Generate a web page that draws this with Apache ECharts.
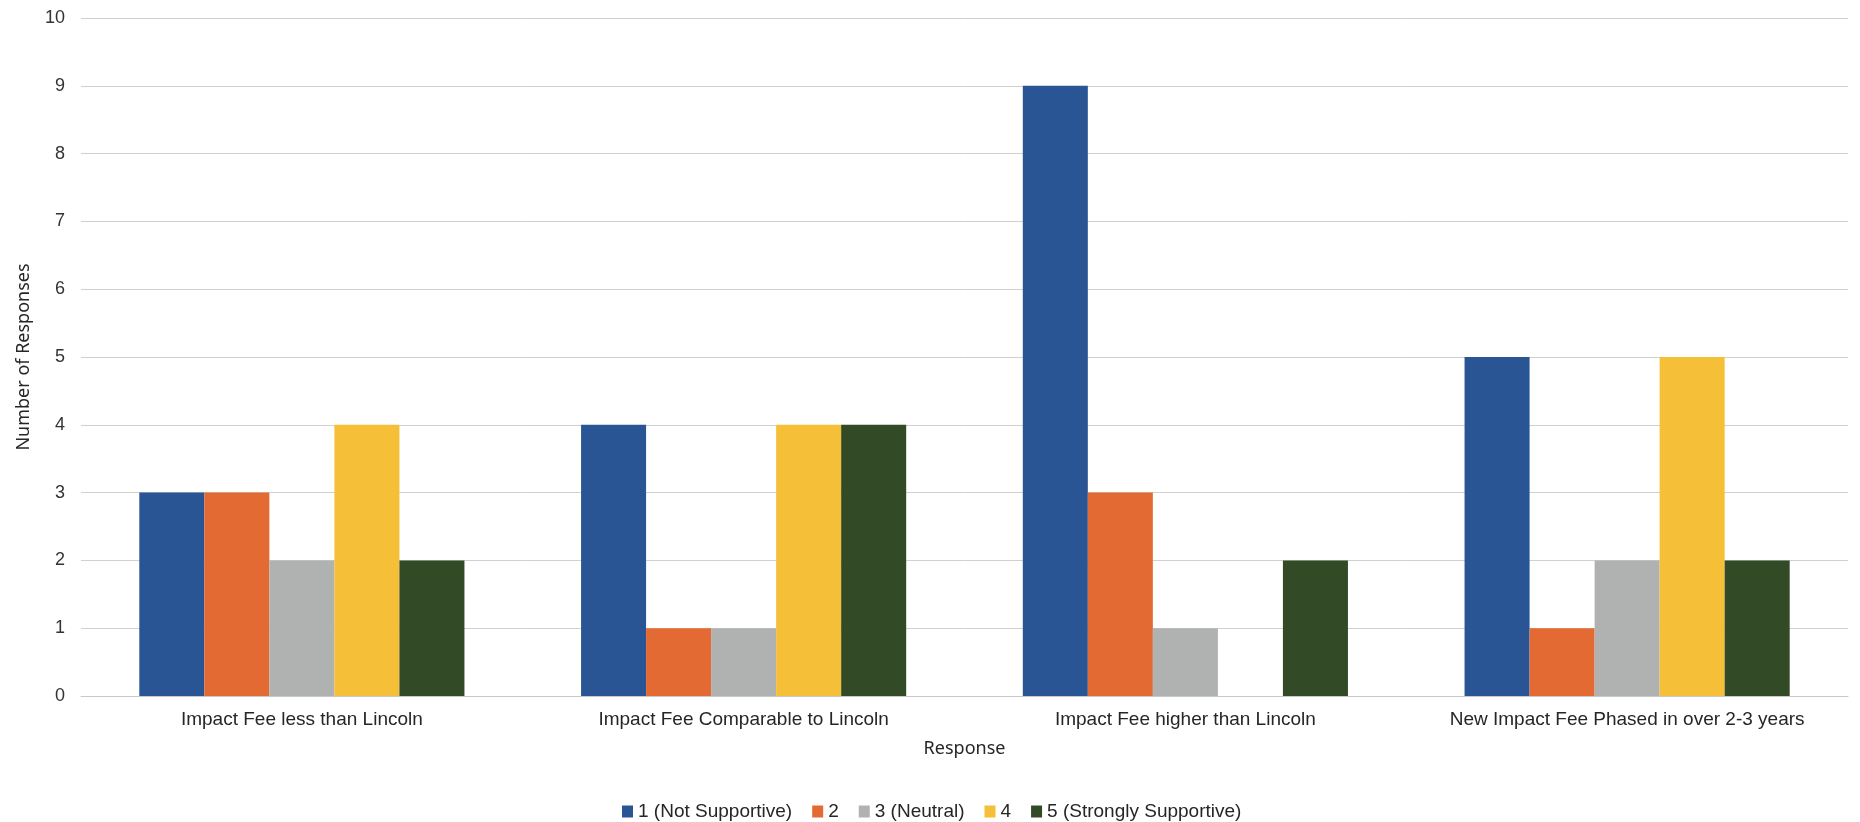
<!DOCTYPE html>
<html>
<head>
<meta charset="utf-8">
<script src="https://cdn.jsdelivr.net/npm/echarts@6/dist/echarts.min.js"></script>
<style>
html,body{margin:0;padding:0;background:#fff;}
#chart{width:1860px;height:822px;}
</style>
</head>
<body>
<div id="chart"></div>
<script>
const categories = ["Impact Fee less than Lincoln", "Impact Fee Comparable to Lincoln", "Impact Fee higher than Lincoln", "New Impact Fee Phased in over 2-3 years"];
const seriesNames = ["1 (Not Supportive)", "2", "3 (Neutral)", "4", "5 (Strongly Supportive)"];
const s1 = [3, 4, 9, 5];
const s2 = [3, 1, 3, 1];
const s3 = [2, 1, 1, 2];
const s4 = [4, 4, 0, 5];
const s5 = [2, 4, 2, 2];
const yTicks = [0, 1, 2, 3, 4, 5, 6, 7, 8, 9, 10];
const colors = ["#2a5595", "#e36a32", "#b0b2b1", "#f6bf38", "#324a26"];

const allData = [s1, s2, s3, s4, s5];
const chart = echarts.init(document.getElementById('chart'), null, {renderer: 'canvas'});
chart.setOption({
  animation: false,
  backgroundColor: '#ffffff',
  color: colors,
  grid: {left: 81, right: 12, top: 18, bottom: 126, containLabel: false},
  legend: {
    data: seriesNames,
    left: 617,
    top: 797,
    itemWidth: 11,
    itemHeight: 12,
    itemGap: 20,
    icon: 'rect',
    textStyle: {fontFamily: 'Liberation Sans, Arial, sans-serif', fontSize: 19, color: '#262626'}
  },
  xAxis: {
    type: 'category',
    data: categories,
    name: 'Response',
    nameLocation: 'middle',
    nameGap: 44,
    nameTextStyle: {fontFamily: 'Noto Sans, sans-serif', fontSize: 18, color: '#262626'},
    axisLine: {show: true, lineStyle: {color: '#c8c8c8', width: 1}},
    axisTick: {show: false},
    axisLabel: {interval: 0, fontFamily: 'Liberation Sans, Arial, sans-serif', fontSize: 19, color: '#262626', margin: 14}
  },
  yAxis: {
    type: 'value',
    min: yTicks[0],
    max: yTicks[yTicks.length - 1],
    interval: 1,
    name: 'Number of Responses',
    nameLocation: 'middle',
    nameGap: 48,
    nameTextStyle: {fontFamily: 'Noto Sans, sans-serif', fontSize: 18, color: '#262626'},
    axisLine: {show: false},
    axisTick: {show: false},
    splitLine: {show: true, lineStyle: {color: '#d0d0d0', width: 1}},
    axisLabel: {fontFamily: 'Liberation Sans, Arial, sans-serif', fontSize: 18, color: '#333333', margin: 16}
  },
  series: seriesNames.map((n, i) => ({
    name: n,
    type: 'bar',
    data: allData[i],
    barGap: '0%',
    barCategoryGap: '26.4%',
    itemStyle: {color: colors[i]}
  }))
});
</script>
</body>
</html>
